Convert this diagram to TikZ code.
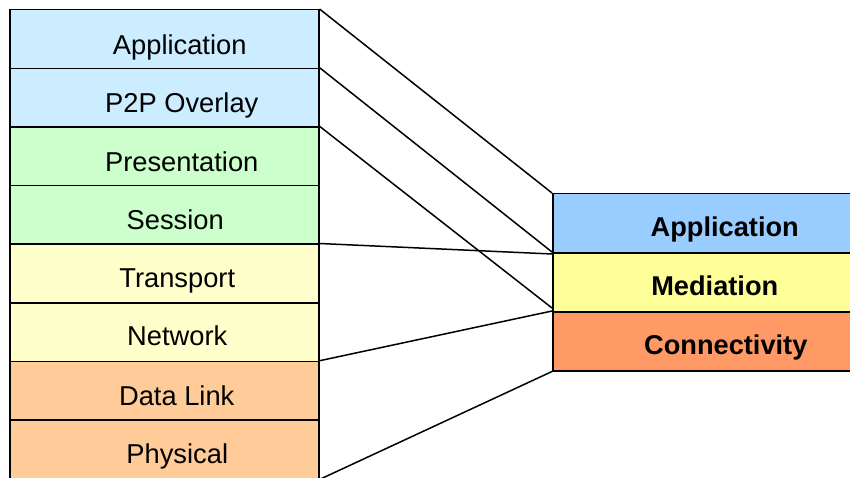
\documentclass[tikz,border=0pt]{standalone}
\usepackage{fontspec}
\setmainfont{Liberation Sans}
\usetikzlibrary{calc}
\definecolor{lblue}{HTML}{CCECFF}
\definecolor{lgreen}{HTML}{CCFFCC}
\definecolor{lyellow}{HTML}{FFFFCC}
\definecolor{lorange}{HTML}{FFCC99}
\definecolor{rblue}{HTML}{99CCFF}
\definecolor{ryellow}{HTML}{FFFF99}
\definecolor{rorange}{HTML}{FF9966}
\begin{document}
\begin{tikzpicture}[x=1pt,y=-1pt,
  layer/.style={draw=black, line width=1.5pt, minimum width=309pt,
    minimum height=58.6pt, inner sep=0pt, anchor=north west},
  group/.style={draw=black, line width=1.5pt, minimum width=310pt,
    minimum height=59pt, inner sep=0pt, anchor=north west},
  lbl/.style={font=\fontsize{27.3}{30}\selectfont, inner sep=0pt, anchor=base},
  glbl/.style={font=\fontsize{27.2}{30}\selectfont\bfseries, inner sep=0pt, anchor=base},
  conn/.style={draw=black, line width=1.5pt}]
\useasboundingbox (0,0) rectangle (850,478);

% OSI-style stack on the left (layer, fill, label, label shift, baseline)
\foreach \i/\c/\t/\dx/\dy in {1/lblue/Application/15.5/45.5,
    2/lblue/P2P Overlay/17.5/44.5, 3/lgreen/Presentation/17.5/45,
    4/lgreen/Session/11/44.5, 5/lyellow/Transport/13/44.2,
    6/lyellow/Network/13/43.8, 7/lorange/Data Link/12.5/44.4,
    8/lorange/Physical/13/44.6} {
  \node[layer, fill=\c] (L\i) at (9, 9+58.625*\i-58.625) {};
  \node[lbl] (T\i) at ($(L\i.north)+(\dx,\dy)$) {\t};
}

% three-group stack on the right
\node[group, fill=rblue] (R1) at (552,193) {};
\node[group, fill=ryellow] (R2) at (552,252) {};
\node[group, fill=rorange] (R3) at (552,311) {};
\node[glbl] (G1) at ($(R1.north)+(17,43.5)$) {Application};
\node[glbl] (G2) at ($(R2.north)+(7,43.5)$) {Mediation};
\node[glbl] (G3) at ($(R3.north)+(18,43.5)$) {Connectivity};

% mapping lines
\draw[conn] (L1.north east) -- (R1.north west);
\draw[conn] (L2.north east) -- (R2.north west);
\draw[conn] (L3.north east) -- ($(R3.north west)+(0,-3)$);
\draw[conn] (L5.north east) -- ($(R2.north west)+(0,2)$);
\draw[conn] (L7.north east) -- (R3.north west);
\draw[conn] (L8.south east) -- (R3.south west);
\end{tikzpicture}
\end{document}
